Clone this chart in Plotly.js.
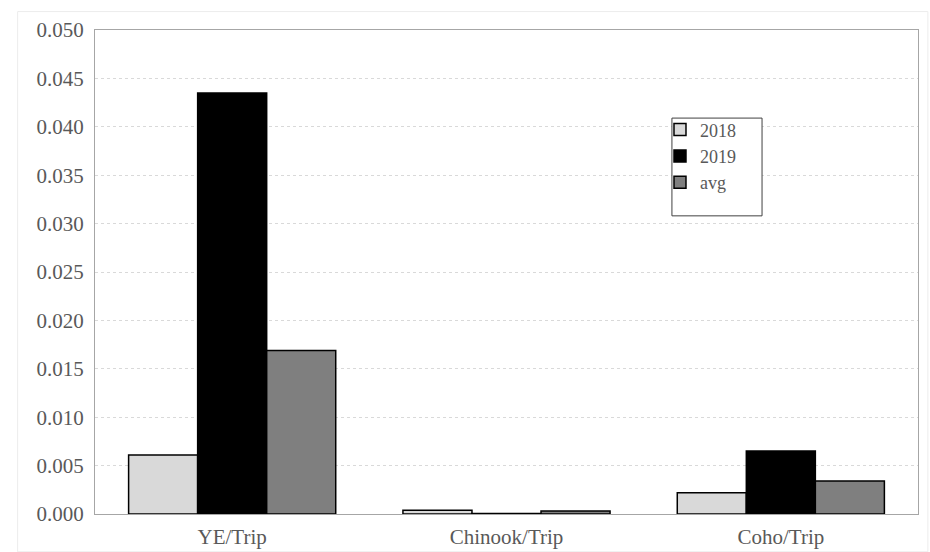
<!DOCTYPE html>
<html>
<head>
<meta charset="utf-8">
<script src="https://cdn.plot.ly/plotly-3.0.1.min.js"></script>
<style>html,body{margin:0;padding:0;background:#fff;}#chart{width:930px;height:552px;}</style>
</head>
<body>
<div id="chart"></div>
<script>
const categories = ["YE/Trip", "Chinook/Trip", "Coho/Trip"];
const values2018 = [0.0061, 0.0004, 0.0022];
const values2019 = [0.0435, 0.00005, 0.0065];
const valuesAvg = [0.0169, 0.0003, 0.0034];
const tickVals = [0, 0.005, 0.01, 0.015, 0.02, 0.025, 0.03, 0.035, 0.04, 0.045, 0.05];
const tickText = ["0.000","0.005","0.010","0.015","0.020","0.025","0.030","0.035","0.040","0.045","0.050"];

const font = {family: "Liberation Serif, Times New Roman, serif", size: 21, color: "#595959"};
const line = {color: "#000", width: 1.5};
const traces = [
  {type: "bar", name: "2018", x: categories, y: values2018, marker: {color: "#d9d9d9", line: line}},
  {type: "bar", name: "2019", x: categories, y: values2019, marker: {color: "#000000", line: line}},
  {type: "bar", name: "avg", x: categories, y: valuesAvg, marker: {color: "#7f7f7f", line: line}}
];
const layout = {
  width: 930, height: 552,
  margin: {l: 95, r: 12, t: 30, b: 38},
  paper_bgcolor: "#fff", plot_bgcolor: "#fff",
  font: font,
  barmode: "group", bargap: 0.245, bargroupgap: 0,
  showlegend: true,
  legend: {
    x: 0.6865, y: 0.832, xanchor: "left", yanchor: "top",
    borderwidth: 0, bgcolor: "rgba(0,0,0,0)",
    font: {family: font.family, size: 18, color: "#595959"},
    tracegroupgap: 0, itemwidth: 30
  },
  xaxis: {
    showgrid: false, showline: true, linecolor: "#a6a6a6", linewidth: 1, mirror: true,
    ticks: "", tickfont: font, ticklabelstandoff: 4
  },
  yaxis: {
    range: [0, 0.05], tickvals: tickVals, ticktext: tickText,
    showgrid: true, gridcolor: "#d9d9d9", gridwidth: 1, griddash: "dot",
    showline: true, linecolor: "#a6a6a6", linewidth: 1, mirror: true,
    zeroline: false, ticks: "", tickfont: font, ticklabelstandoff: 6
  },
  shapes: [
    {type: "rect", xref: "paper", yref: "paper", x0: -0.094, x1: 1.012, y0: -0.078, y1: 1.038,
     line: {color: "#ececec", width: 1}, fillcolor: "rgba(0,0,0,0)", layer: "below"},
    {type: "rect", xref: "paper", yref: "paper", x0: 0.701, x1: 0.8105, y0: 0.616, y1: 0.818,
     line: {color: "#404040", width: 1}, fillcolor: "#ffffff", layer: "above"}
  ]
};
Plotly.newPlot("chart", traces, layout, {displayModeBar: false, staticPlot: true});
</script>
</body>
</html>
